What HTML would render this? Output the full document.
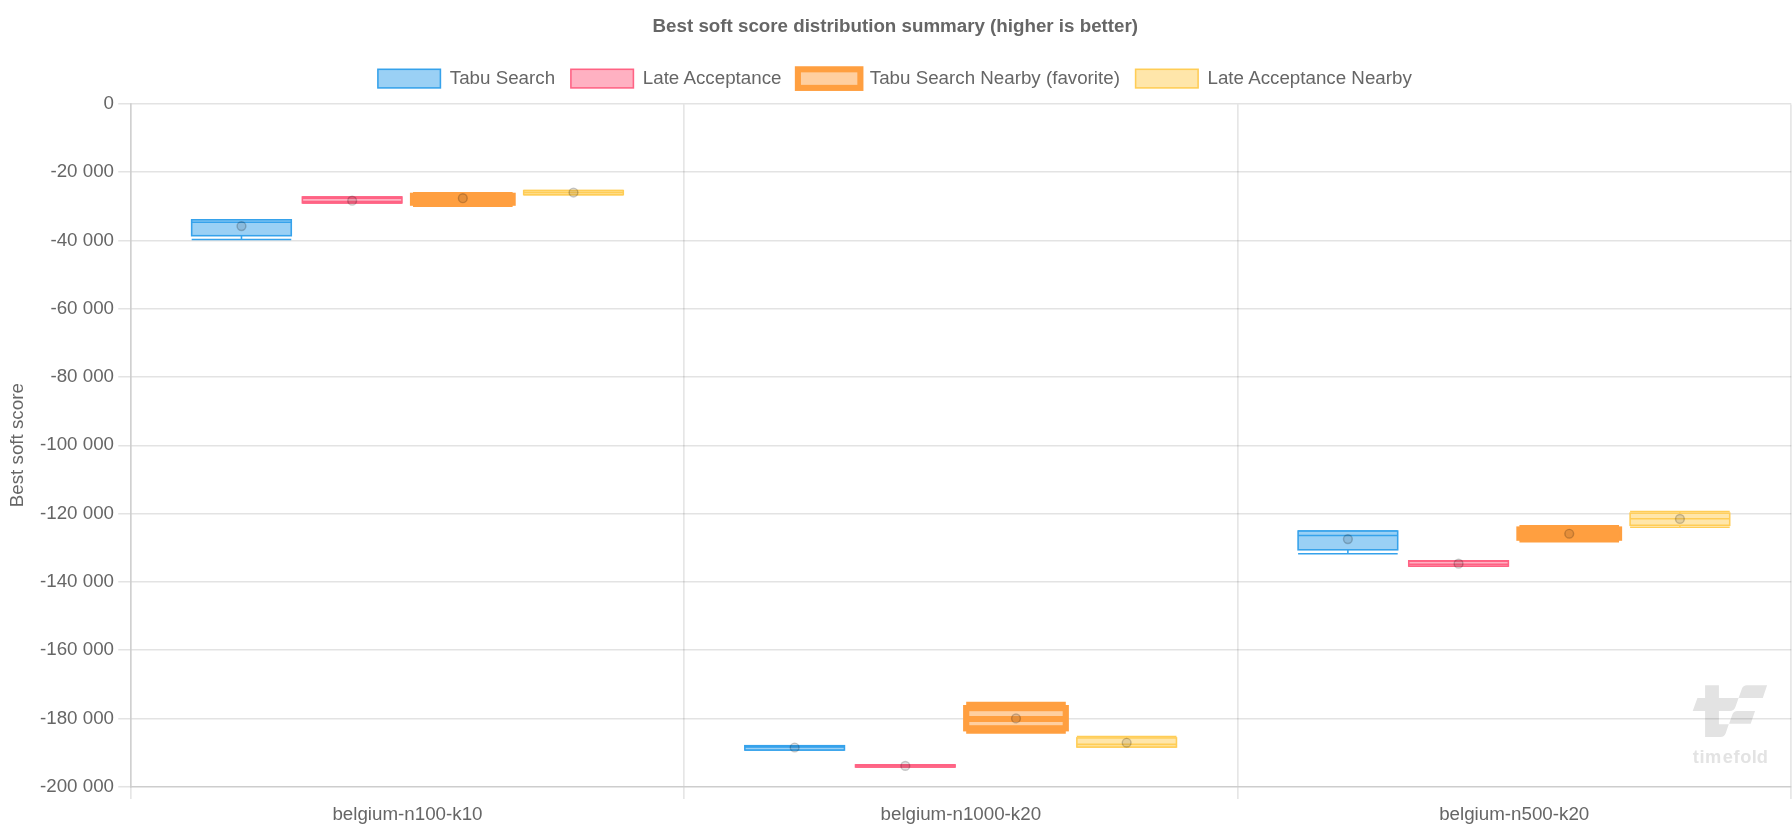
<!DOCTYPE html>
<html><head><meta charset="utf-8"><title>Best soft score distribution summary</title>
<style>
html,body{margin:0;padding:0;background:#fff;width:1792px;height:832px;overflow:hidden;font-family:'Liberation Sans', sans-serif;}
</style></head><body>
<svg width="1792" height="832" viewBox="0 0 1792 832" style="position:absolute;left:0;top:0;will-change:transform">
<g fill="#e3e3e3">
<path d="M1705.1,685.2 H1718.9 V698 H1738.6 L1741.9,688.8 Q1743.1,685.2 1746.9,685.2 H1767.1 L1762.8,697.9 H1738.6 L1735.4,707 Q1734.0,711 1729.8,711 H1718.9 V724.3 H1728.9 L1732.1,715.2 Q1733.5,711.1 1737.3,711.1 H1755.05 L1750.7,723.8 H1728.9 L1725.8,733 Q1724.5,737 1720.4,737 H1705.1 V711 H1692.7 L1697.4,698 H1705.1 Z"/>
</g>
<text x="1692.85 1699.39 1705.07 1722.64 1733.62 1740.32 1751.82 1756.82" y="763.0" font-family="'Liberation Sans', sans-serif" font-weight="bold" font-size="18.25" fill="#e3e3e3">timefold</text>
<line x1="118.2" y1="103.77" x2="1791.30" y2="103.77" stroke="rgba(0,0,0,0.11)" stroke-width="1.56"/>
<line x1="118.2" y1="171.74" x2="1791.30" y2="171.74" stroke="rgba(0,0,0,0.11)" stroke-width="1.56"/>
<line x1="118.2" y1="240.82" x2="1791.30" y2="240.82" stroke="rgba(0,0,0,0.11)" stroke-width="1.56"/>
<line x1="118.2" y1="308.75" x2="1791.30" y2="308.75" stroke="rgba(0,0,0,0.11)" stroke-width="1.56"/>
<line x1="118.2" y1="376.74" x2="1791.30" y2="376.74" stroke="rgba(0,0,0,0.11)" stroke-width="1.56"/>
<line x1="118.2" y1="445.82" x2="1791.30" y2="445.82" stroke="rgba(0,0,0,0.11)" stroke-width="1.56"/>
<line x1="118.2" y1="513.82" x2="1791.30" y2="513.82" stroke="rgba(0,0,0,0.11)" stroke-width="1.56"/>
<line x1="118.2" y1="581.74" x2="1791.30" y2="581.74" stroke="rgba(0,0,0,0.11)" stroke-width="1.56"/>
<line x1="118.2" y1="649.74" x2="1791.30" y2="649.74" stroke="rgba(0,0,0,0.11)" stroke-width="1.56"/>
<line x1="118.2" y1="718.82" x2="1791.30" y2="718.82" stroke="rgba(0,0,0,0.11)" stroke-width="1.56"/>
<line x1="683.86" y1="104.55" x2="683.86" y2="798.9" stroke="rgba(0,0,0,0.11)" stroke-width="1.56"/>
<line x1="1237.86" y1="104.55" x2="1237.86" y2="798.9" stroke="rgba(0,0,0,0.11)" stroke-width="1.56"/>
<line x1="1790.90" y1="104.55" x2="1790.90" y2="798.9" stroke="rgba(0,0,0,0.11)" stroke-width="1.56"/>
<line x1="130.86" y1="786.74" x2="130.86" y2="798.9" stroke="rgba(0,0,0,0.11)" stroke-width="1.56"/>
<line x1="118.2" y1="786.74" x2="130.86" y2="786.74" stroke="rgba(0,0,0,0.11)" stroke-width="1.56"/>
<line x1="130.86" y1="103.37" x2="130.86" y2="787.52" stroke="#cdcdcd" stroke-width="1.56"/>
<line x1="130.08" y1="786.74" x2="1791.30" y2="786.74" stroke="#cdcdcd" stroke-width="1.56"/>
<text x="114" y="108.87" font-family="'Liberation Sans', sans-serif" font-size="18.75" fill="#666" text-anchor="end">0</text>
<text x="114" y="176.84" font-family="'Liberation Sans', sans-serif" font-size="18.75" fill="#666" text-anchor="end">-20 000</text>
<text x="114" y="245.92" font-family="'Liberation Sans', sans-serif" font-size="18.75" fill="#666" text-anchor="end">-40 000</text>
<text x="114" y="313.85" font-family="'Liberation Sans', sans-serif" font-size="18.75" fill="#666" text-anchor="end">-60 000</text>
<text x="114" y="381.84" font-family="'Liberation Sans', sans-serif" font-size="18.75" fill="#666" text-anchor="end">-80 000</text>
<text x="114" y="449.90" font-family="'Liberation Sans', sans-serif" font-size="18.75" fill="#666" text-anchor="end">-100 000</text>
<text x="114" y="518.92" font-family="'Liberation Sans', sans-serif" font-size="18.75" fill="#666" text-anchor="end">-120 000</text>
<text x="114" y="586.84" font-family="'Liberation Sans', sans-serif" font-size="18.75" fill="#666" text-anchor="end">-140 000</text>
<text x="114" y="654.84" font-family="'Liberation Sans', sans-serif" font-size="18.75" fill="#666" text-anchor="end">-160 000</text>
<text x="114" y="723.92" font-family="'Liberation Sans', sans-serif" font-size="18.75" fill="#666" text-anchor="end">-180 000</text>
<text x="114" y="791.84" font-family="'Liberation Sans', sans-serif" font-size="18.75" fill="#666" text-anchor="end">-200 000</text>
<text x="407.48" y="819.9" font-family="'Liberation Sans', sans-serif" font-size="18.75" fill="#666" text-anchor="middle">belgium-n100-k10</text>
<text x="960.85" y="819.9" font-family="'Liberation Sans', sans-serif" font-size="18.75" fill="#666" text-anchor="middle">belgium-n1000-k20</text>
<text x="1514.22" y="819.9" font-family="'Liberation Sans', sans-serif" font-size="18.75" fill="#666" text-anchor="middle">belgium-n500-k20</text>
<text transform="translate(22.8,445.2) rotate(-90)" x="0" y="0" font-family="'Liberation Sans', sans-serif" font-size="18.75" fill="#666" text-anchor="middle">Best soft score</text>
<text x="895.3" y="31.8" font-family="'Liberation Sans', sans-serif" font-weight="bold" font-size="18.75" fill="#666" text-anchor="middle">Best soft score distribution summary (higher is better)</text>
<rect x="377.9" y="69.3" width="62.5" height="18.6" fill="rgb(154,208,245)" stroke="rgb(54,162,235)" stroke-width="1.5625"/>
<text x="449.80" y="83.9" font-family="'Liberation Sans', sans-serif" font-size="18.75" fill="#666">Tabu Search</text>
<rect x="570.9" y="69.3" width="62.5" height="18.6" fill="rgb(255,177,194)" stroke="rgb(255,99,132)" stroke-width="1.5625"/>
<text x="642.80" y="83.9" font-family="'Liberation Sans', sans-serif" font-size="18.75" fill="#666">Late Acceptance</text>
<rect x="797.9" y="69.3" width="62.5" height="18.6" fill="rgb(255,207,160)" stroke="rgb(255,159,64)" stroke-width="6.1"/>
<text x="869.80" y="83.9" font-family="'Liberation Sans', sans-serif" font-size="18.75" fill="#666">Tabu Search Nearby (favorite)</text>
<rect x="1135.6" y="69.3" width="62.5" height="18.6" fill="rgb(255,230,170)" stroke="rgb(255,205,86)" stroke-width="1.5625"/>
<text x="1207.50" y="83.9" font-family="'Liberation Sans', sans-serif" font-size="18.75" fill="#666">Late Acceptance Nearby</text>
<line x1="241.47" y1="219.80" x2="241.47" y2="219.80" stroke="rgb(54,162,235)" stroke-width="1.5625"/>
<line x1="191.67" y1="219.80" x2="291.27" y2="219.80" stroke="rgb(54,162,235)" stroke-width="1.5625"/>
<line x1="241.47" y1="235.70" x2="241.47" y2="239.50" stroke="rgb(54,162,235)" stroke-width="1.5625"/>
<line x1="191.67" y1="239.50" x2="291.27" y2="239.50" stroke="rgb(54,162,235)" stroke-width="1.5625"/>
<rect x="191.67" y="219.80" width="99.6" height="15.90" fill="rgb(154,208,245)" stroke="rgb(54,162,235)" stroke-width="1.5625"/>
<line x1="191.67" y1="222.20" x2="291.27" y2="222.20" stroke="rgb(54,162,235)" stroke-width="1.5625"/>
<circle cx="241.47" cy="226.10" r="4.4" fill="rgba(0,0,0,0.1)" stroke="rgba(0,0,0,0.2)" stroke-width="1.45"/>
<line x1="352.15" y1="197.00" x2="352.15" y2="197.00" stroke="rgb(255,99,132)" stroke-width="1.5625"/>
<line x1="302.35" y1="197.00" x2="401.95" y2="197.00" stroke="rgb(255,99,132)" stroke-width="1.5625"/>
<line x1="352.15" y1="202.90" x2="352.15" y2="202.90" stroke="rgb(255,99,132)" stroke-width="1.5625"/>
<line x1="302.35" y1="202.90" x2="401.95" y2="202.90" stroke="rgb(255,99,132)" stroke-width="1.5625"/>
<rect x="302.35" y="197.00" width="99.6" height="5.90" fill="rgb(255,177,194)" stroke="rgb(255,99,132)" stroke-width="1.5625"/>
<line x1="302.35" y1="198.30" x2="401.95" y2="198.30" stroke="rgb(255,99,132)" stroke-width="1.5625"/>
<line x1="302.35" y1="201.60" x2="401.95" y2="201.60" stroke="rgb(255,99,132)" stroke-width="1.5625"/>
<line x1="302.35" y1="197.65" x2="401.95" y2="197.65" stroke="rgb(255,99,132)" stroke-width="1.5625"/>
<line x1="302.35" y1="202.25" x2="401.95" y2="202.25" stroke="rgb(255,99,132)" stroke-width="1.5625"/>
<circle cx="352.15" cy="200.70" r="4.4" fill="rgba(0,0,0,0.1)" stroke="rgba(0,0,0,0.2)" stroke-width="1.45"/>
<line x1="462.82" y1="195.80" x2="462.82" y2="195.20" stroke="rgb(255,159,64)" stroke-width="6.2"/>
<line x1="413.02" y1="195.20" x2="512.62" y2="195.20" stroke="rgb(255,159,64)" stroke-width="6.2"/>
<line x1="462.82" y1="202.70" x2="462.82" y2="204.00" stroke="rgb(255,159,64)" stroke-width="6.2"/>
<line x1="413.02" y1="204.00" x2="512.62" y2="204.00" stroke="rgb(255,159,64)" stroke-width="6.2"/>
<rect x="413.02" y="195.80" width="99.6" height="6.90" fill="rgb(255,207,160)" stroke="rgb(255,159,64)" stroke-width="6.2"/>
<line x1="413.02" y1="199.00" x2="512.62" y2="199.00" stroke="rgb(255,159,64)" stroke-width="6.2"/>
<circle cx="462.82" cy="198.20" r="4.4" fill="rgba(0,0,0,0.1)" stroke="rgba(0,0,0,0.2)" stroke-width="1.45"/>
<line x1="573.49" y1="190.60" x2="573.49" y2="190.60" stroke="rgb(255,205,86)" stroke-width="1.5625"/>
<line x1="523.69" y1="190.60" x2="623.29" y2="190.60" stroke="rgb(255,205,86)" stroke-width="1.5625"/>
<line x1="573.49" y1="194.60" x2="573.49" y2="194.60" stroke="rgb(255,205,86)" stroke-width="1.5625"/>
<line x1="523.69" y1="194.60" x2="623.29" y2="194.60" stroke="rgb(255,205,86)" stroke-width="1.5625"/>
<rect x="523.69" y="190.60" width="99.6" height="4.00" fill="rgb(255,230,170)" stroke="rgb(255,205,86)" stroke-width="1.5625"/>
<line x1="523.69" y1="192.55" x2="623.29" y2="192.55" stroke="rgb(255,205,86)" stroke-width="1.5625"/>
<circle cx="573.49" cy="192.50" r="4.4" fill="rgba(0,0,0,0.1)" stroke="rgba(0,0,0,0.2)" stroke-width="1.45"/>
<line x1="794.64" y1="745.70" x2="794.64" y2="745.70" stroke="rgb(54,162,235)" stroke-width="1.5625"/>
<line x1="744.84" y1="745.70" x2="844.44" y2="745.70" stroke="rgb(54,162,235)" stroke-width="1.5625"/>
<line x1="794.64" y1="750.00" x2="794.64" y2="750.00" stroke="rgb(54,162,235)" stroke-width="1.5625"/>
<line x1="744.84" y1="750.00" x2="844.44" y2="750.00" stroke="rgb(54,162,235)" stroke-width="1.5625"/>
<rect x="744.84" y="745.70" width="99.6" height="4.30" fill="rgb(154,208,245)" stroke="rgb(54,162,235)" stroke-width="1.5625"/>
<line x1="744.84" y1="747.00" x2="844.44" y2="747.00" stroke="rgb(54,162,235)" stroke-width="1.5625"/>
<line x1="744.84" y1="746.40" x2="844.44" y2="746.40" stroke="rgb(54,162,235)" stroke-width="1.5625"/>
<circle cx="794.64" cy="747.50" r="4.4" fill="rgba(0,0,0,0.1)" stroke="rgba(0,0,0,0.2)" stroke-width="1.45"/>
<line x1="905.31" y1="764.90" x2="905.31" y2="764.90" stroke="rgb(255,99,132)" stroke-width="1.5625"/>
<line x1="855.51" y1="764.90" x2="955.11" y2="764.90" stroke="rgb(255,99,132)" stroke-width="1.5625"/>
<line x1="905.31" y1="767.00" x2="905.31" y2="767.00" stroke="rgb(255,99,132)" stroke-width="1.5625"/>
<line x1="855.51" y1="767.00" x2="955.11" y2="767.00" stroke="rgb(255,99,132)" stroke-width="1.5625"/>
<rect x="855.51" y="764.90" width="99.6" height="2.10" fill="rgb(255,177,194)" stroke="rgb(255,99,132)" stroke-width="1.5625"/>
<line x1="855.51" y1="765.90" x2="955.11" y2="765.90" stroke="rgb(255,99,132)" stroke-width="1.5625"/>
<circle cx="905.31" cy="765.90" r="4.4" fill="rgba(0,0,0,0.1)" stroke="rgba(0,0,0,0.2)" stroke-width="1.45"/>
<line x1="1015.99" y1="708.10" x2="1015.99" y2="704.80" stroke="rgb(255,159,64)" stroke-width="6.2"/>
<line x1="966.19" y1="704.80" x2="1065.79" y2="704.80" stroke="rgb(255,159,64)" stroke-width="6.2"/>
<line x1="1015.99" y1="728.30" x2="1015.99" y2="730.60" stroke="rgb(255,159,64)" stroke-width="6.2"/>
<line x1="966.19" y1="730.60" x2="1065.79" y2="730.60" stroke="rgb(255,159,64)" stroke-width="6.2"/>
<rect x="966.19" y="708.10" width="99.6" height="20.20" fill="rgb(255,207,160)" stroke="rgb(255,159,64)" stroke-width="6.2"/>
<line x1="966.19" y1="719.00" x2="1065.79" y2="719.00" stroke="rgb(255,159,64)" stroke-width="6.2"/>
<circle cx="1015.99" cy="718.40" r="4.4" fill="rgba(0,0,0,0.1)" stroke="rgba(0,0,0,0.2)" stroke-width="1.45"/>
<line x1="1126.66" y1="737.90" x2="1126.66" y2="736.50" stroke="rgb(255,205,86)" stroke-width="1.5625"/>
<line x1="1076.86" y1="736.50" x2="1176.46" y2="736.50" stroke="rgb(255,205,86)" stroke-width="1.5625"/>
<line x1="1126.66" y1="747.00" x2="1126.66" y2="747.00" stroke="rgb(255,205,86)" stroke-width="1.5625"/>
<line x1="1076.86" y1="747.00" x2="1176.46" y2="747.00" stroke="rgb(255,205,86)" stroke-width="1.5625"/>
<rect x="1076.86" y="737.90" width="99.6" height="9.10" fill="rgb(255,230,170)" stroke="rgb(255,205,86)" stroke-width="1.5625"/>
<line x1="1076.86" y1="744.40" x2="1176.46" y2="744.40" stroke="rgb(255,205,86)" stroke-width="1.5625"/>
<circle cx="1126.66" cy="742.75" r="4.4" fill="rgba(0,0,0,0.1)" stroke="rgba(0,0,0,0.2)" stroke-width="1.45"/>
<line x1="1347.89" y1="531.05" x2="1347.89" y2="531.05" stroke="rgb(54,162,235)" stroke-width="1.5625"/>
<line x1="1298.09" y1="531.05" x2="1397.69" y2="531.05" stroke="rgb(54,162,235)" stroke-width="1.5625"/>
<line x1="1347.89" y1="549.80" x2="1347.89" y2="553.80" stroke="rgb(54,162,235)" stroke-width="1.5625"/>
<line x1="1298.09" y1="553.80" x2="1397.69" y2="553.80" stroke="rgb(54,162,235)" stroke-width="1.5625"/>
<rect x="1298.09" y="531.05" width="99.6" height="18.75" fill="rgb(154,208,245)" stroke="rgb(54,162,235)" stroke-width="1.5625"/>
<line x1="1298.09" y1="535.50" x2="1397.69" y2="535.50" stroke="rgb(54,162,235)" stroke-width="1.5625"/>
<circle cx="1347.89" cy="539.10" r="4.4" fill="rgba(0,0,0,0.1)" stroke="rgba(0,0,0,0.2)" stroke-width="1.45"/>
<line x1="1458.56" y1="560.80" x2="1458.56" y2="560.80" stroke="rgb(255,99,132)" stroke-width="1.5625"/>
<line x1="1408.76" y1="560.80" x2="1508.36" y2="560.80" stroke="rgb(255,99,132)" stroke-width="1.5625"/>
<line x1="1458.56" y1="566.10" x2="1458.56" y2="566.10" stroke="rgb(255,99,132)" stroke-width="1.5625"/>
<line x1="1408.76" y1="566.10" x2="1508.36" y2="566.10" stroke="rgb(255,99,132)" stroke-width="1.5625"/>
<rect x="1408.76" y="560.80" width="99.6" height="5.30" fill="rgb(255,177,194)" stroke="rgb(255,99,132)" stroke-width="1.5625"/>
<line x1="1408.76" y1="564.20" x2="1508.36" y2="564.20" stroke="rgb(255,99,132)" stroke-width="1.5625"/>
<line x1="1408.76" y1="561.30" x2="1508.36" y2="561.30" stroke="rgb(255,99,132)" stroke-width="1.5625"/>
<circle cx="1458.56" cy="563.70" r="4.4" fill="rgba(0,0,0,0.1)" stroke="rgba(0,0,0,0.2)" stroke-width="1.45"/>
<line x1="1569.23" y1="529.50" x2="1569.23" y2="528.20" stroke="rgb(255,159,64)" stroke-width="6.2"/>
<line x1="1519.43" y1="528.20" x2="1619.03" y2="528.20" stroke="rgb(255,159,64)" stroke-width="6.2"/>
<line x1="1569.23" y1="537.70" x2="1569.23" y2="539.40" stroke="rgb(255,159,64)" stroke-width="6.2"/>
<line x1="1519.43" y1="539.40" x2="1619.03" y2="539.40" stroke="rgb(255,159,64)" stroke-width="6.2"/>
<rect x="1519.43" y="529.50" width="99.6" height="8.20" fill="rgb(255,207,160)" stroke="rgb(255,159,64)" stroke-width="6.2"/>
<line x1="1519.43" y1="533.50" x2="1619.03" y2="533.50" stroke="rgb(255,159,64)" stroke-width="6.2"/>
<circle cx="1569.23" cy="533.75" r="4.4" fill="rgba(0,0,0,0.1)" stroke="rgba(0,0,0,0.2)" stroke-width="1.45"/>
<line x1="1679.91" y1="513.10" x2="1679.91" y2="511.50" stroke="rgb(255,205,86)" stroke-width="1.5625"/>
<line x1="1630.11" y1="511.50" x2="1729.71" y2="511.50" stroke="rgb(255,205,86)" stroke-width="1.5625"/>
<line x1="1679.91" y1="525.30" x2="1679.91" y2="527.30" stroke="rgb(255,205,86)" stroke-width="1.5625"/>
<line x1="1630.11" y1="527.30" x2="1729.71" y2="527.30" stroke="rgb(255,205,86)" stroke-width="1.5625"/>
<rect x="1630.11" y="513.10" width="99.6" height="12.20" fill="rgb(255,230,170)" stroke="rgb(255,205,86)" stroke-width="1.5625"/>
<line x1="1630.11" y1="518.75" x2="1729.71" y2="518.75" stroke="rgb(255,205,86)" stroke-width="1.5625"/>
<circle cx="1679.91" cy="518.95" r="4.4" fill="rgba(0,0,0,0.1)" stroke="rgba(0,0,0,0.2)" stroke-width="1.45"/>
</svg>
</body></html>
